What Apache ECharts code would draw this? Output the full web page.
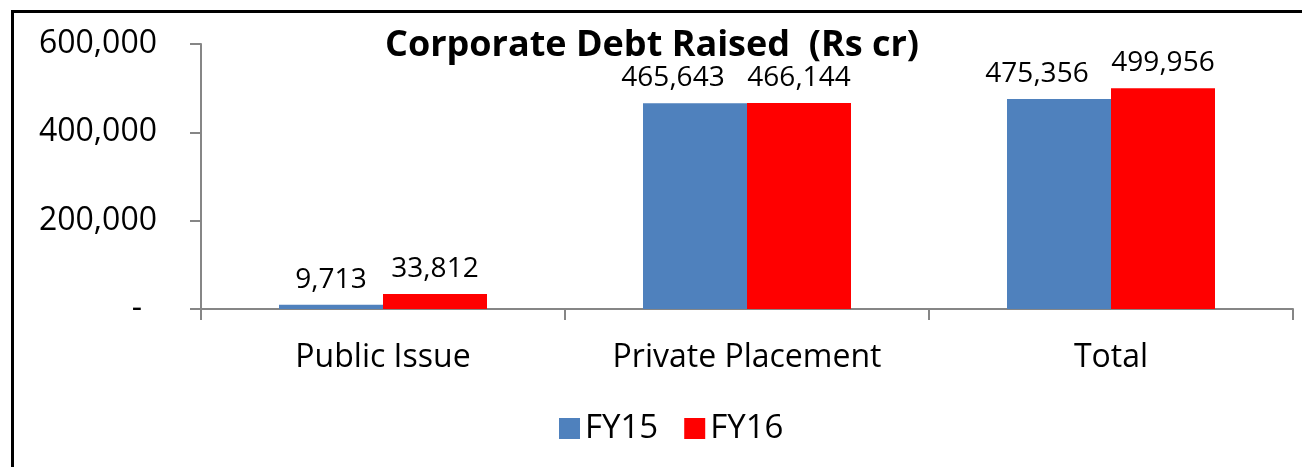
<!DOCTYPE html>
<html>
<head>
<meta charset="utf-8">
<script src="https://cdn.jsdelivr.net/npm/echarts@6/dist/echarts.min.js"></script>
<style>
  html, body { margin: 0; padding: 0; background: #fff; overflow: hidden; }
  #chart { width: 1302px; height: 467px; }
</style>
</head>
<body>
<div id="chart"></div>
<script>
const categories = ['Public Issue', 'Private Placement', 'Total']
const fy15 = [9713, 465643, 475356]
const fy16 = [33812, 466144, 499956]
const yTicks = [0, 200000, 400000, 600000]

const font = '"Open Sans", Lato, sans-serif'
const fmt = v => v.toLocaleString('en-US')

// excel nudges the FY15 labels left where they would collide
const nudge = (v, i) => i === 0 ? v : { value: v, label: { offset: [-22, 0] } }

const chart = echarts.init(document.getElementById('chart'))

chart.setOption({
  animation: false,
  backgroundColor: '#fff',
  textStyle: { fontFamily: font, color: '#000' },
  title: {
    text: 'Corporate Debt Raised  (Rs cr)',
    left: 647,
    textAlign: 'center',
    top: 23,
    textStyle: { fontFamily: font, fontSize: 36, fontWeight: 'bold', color: '#000' }
  },
  graphic: [{
    type: 'rect',
    left: 10, top: 9,
    shape: { width: 1400, height: 600 },
    style: { fill: null, stroke: '#000', lineWidth: 3 },
    silent: true,
    z: -1
  }],
  legend: {
    left: 554,
    top: 407,
    icon: 'rect',
    itemWidth: 21,
    itemHeight: 21,
    itemGap: 26,
    textStyle: { fontFamily: font, fontSize: 33, color: '#000' },
    data: ['FY15', 'FY16']
  },
  grid: { left: 201, right: 9, top: 44, bottom: 158, containLabel: false },
  xAxis: {
    type: 'category',
    data: categories,
    axisLine: { lineStyle: { color: '#868686', width: 2 } },
    axisTick: { show: true, length: 11, lineStyle: { color: '#868686', width: 2 } },
    axisLabel: { fontFamily: font, fontSize: 32, color: '#000', margin: 33 }
  },
  yAxis: {
    type: 'value',
    min: yTicks[0],
    max: yTicks[yTicks.length - 1],
    interval: yTicks[1] - yTicks[0],
    splitLine: { show: false },
    axisLine: { show: true, lineStyle: { color: '#868686', width: 2 } },
    axisTick: { show: true, length: 11, lineStyle: { color: '#868686', width: 2 } },
    axisLabel: {
      fontFamily: font, fontSize: 32, color: '#000', margin: 44,
      formatter: v => v === 0 ? '{z|-}' : fmt(v),
      rich: { z: { fontFamily: font, fontSize: 32, color: '#000', padding: [0, 15, 0, 0] } }
    }
  },
  series: [{
    name: 'FY15',
    type: 'bar',
    data: fy15.map(nudge),
    barWidth: 104,
    barGap: '0%',
    itemStyle: { color: '#4F81BD' },
    label: { show: true, position: 'top', distance: 11, fontFamily: font, fontSize: 28, color: '#000', formatter: p => fmt(p.value) }
  }, {
    name: 'FY16',
    type: 'bar',
    data: fy16,
    barWidth: 104,
    itemStyle: { color: '#FF0000' },
    label: { show: true, position: 'top', distance: 11, fontFamily: font, fontSize: 28, color: '#000', formatter: p => fmt(p.value) }
  }]
})
</script>
</body>
</html>
